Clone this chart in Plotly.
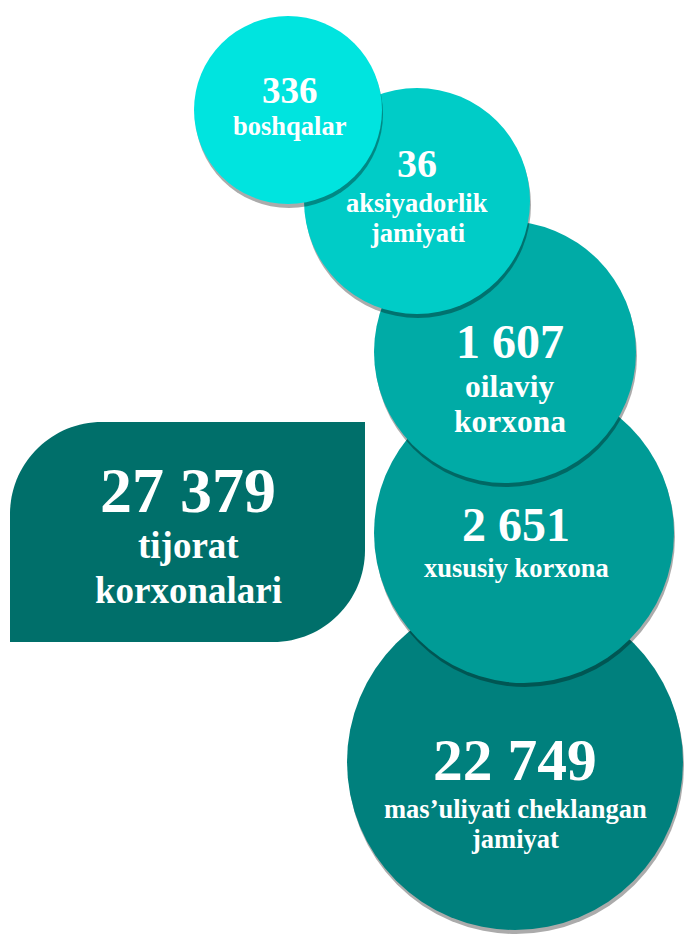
import plotly.graph_objects as go

# ---------------- data ----------------
categories = ["boshqalar", "aksiyadorlik\njamiyati", "oilaviy\nkorxona",
              "xususiy korxona", "mas’uliyati cheklangan\njamiyat"]
values = [336, 36, 1607, 2651, 22749]
total_label = "tijorat\nkorxonalari"
total_value = 27379

# ---------------- layout (pixels) ----------------
W, H = 685, 937
circle_cx = [288, 417, 505, 524, 515]
circle_cy = [110, 201, 352, 533, 762]
circle_r = [94, 113, 131, 150, 168]
text_cx = [290, 417, 510, 516, 515]
circle_colors = ["#00E4DF", "#00CCC7", "#00ABA6", "#009B96", "#00807D"]
num_sizes = [37, 40, 48, 48, 59.5]
lab_sizes = [26.5, 26.5, 31.5, 26.5, 26.5]
num_base = [103, 177, 357, 540, 780]
lab_base = [[135], [212, 242], [397, 432], [577], [818, 848]]

rect_x0, rect_x1, rect_y0, rect_y1 = 10, 365, 422, 642
rect_r = 92
rect_color = "#006F6A"

FONT = "Liberation Serif, Times New Roman, serif"


def fmt(v):
    return f"{v:,}".replace(",", " ")


fig = go.Figure()
fig.add_trace(go.Scatter(x=[0, W], y=[0, H], mode="markers",
                         marker=dict(opacity=0), hoverinfo="skip", showlegend=False))

shapes = []
# draw from bottom (largest) to top
for i in reversed(range(len(values))):
    cx, cy, r = circle_cx[i], circle_cy[i], circle_r[i]
    shapes.append(dict(type="circle", xref="x", yref="y",
                       x0=cx - r + 1, x1=cx + r + 1, y0=cy - r + 4, y1=cy + r + 4,
                       fillcolor="rgba(0,0,0,0.33)", line=dict(width=0)))
    shapes.append(dict(type="circle", xref="x", yref="y",
                       x0=cx - r, x1=cx + r, y0=cy - r, y1=cy + r,
                       fillcolor=circle_colors[i], line=dict(width=0)))

# leaf-shaped rectangle: rounded top-left and bottom-right corners
k = 0.5523 * rect_r
x0, x1, y0, y1, rr = rect_x0, rect_x1, rect_y0, rect_y1, rect_r
path = (f"M {x0},{y0 + rr} "
        f"C {x0},{y0 + rr - k} {x0 + rr - k},{y0} {x0 + rr},{y0} "
        f"L {x1},{y0} L {x1},{y1 - rr} "
        f"C {x1},{y1 - rr + k} {x1 - rr + k},{y1} {x1 - rr},{y1} "
        f"L {x0},{y1} Z")
shapes.append(dict(type="path", xref="x", yref="y", path=path,
                   fillcolor=rect_color, line=dict(width=0)))

annotations = []


def add_text(x, baseline, text, size):
    annotations.append(dict(x=x, y=baseline - 0.33 * size, xref="x", yref="y",
                            text=text, showarrow=False, xanchor="center", yanchor="middle",
                            font=dict(family=FONT, size=size, color="white", weight="bold")))


for i, v in enumerate(values):
    add_text(text_cx[i], num_base[i], fmt(v), num_sizes[i])
    for line, b in zip(categories[i].split("\n"), lab_base[i]):
        add_text(text_cx[i], b, line, lab_sizes[i])

add_text(188, 512, fmt(total_value), 64)
for line, b in zip(total_label.split("\n"), [558, 603]):
    add_text(188, b, line, 37)

fig.update_layout(
    width=W, height=H, margin=dict(l=0, r=0, t=0, b=0),
    paper_bgcolor="white", plot_bgcolor="white",
    xaxis=dict(range=[0, W], visible=False, fixedrange=True),
    yaxis=dict(range=[H, 0], visible=False, fixedrange=True),
    shapes=shapes, annotations=annotations, showlegend=False,
)

fig.write_html("out.html", config={"displayModeBar": False},
               post_script="document.body.style.margin='0';")
